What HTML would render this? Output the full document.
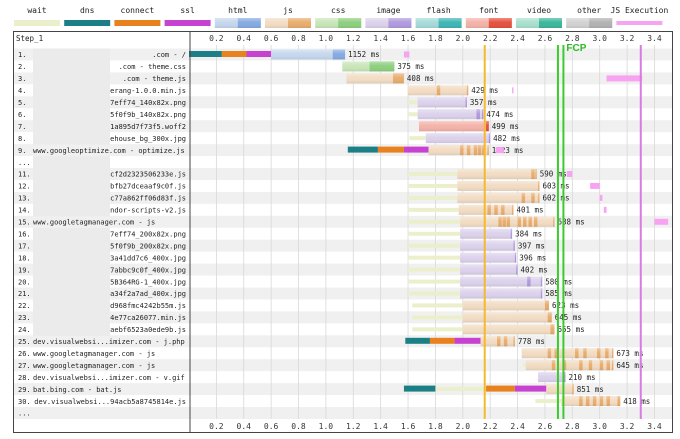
<!DOCTYPE html>
<html><head><meta charset="utf-8"><style>
html,body{margin:0;padding:0;background:#fff;width:680px;height:439px;overflow:hidden}
svg{display:block;font-family:"DejaVu Sans Mono","Liberation Mono",monospace}
</style></head><body>
<svg id="c" width="680" height="439" xmlns="http://www.w3.org/2000/svg">
<defs>
<linearGradient id="sh" x1="0" y1="0" x2="0" y2="1"><stop offset="0" stop-color="#fff" stop-opacity="0.35"/><stop offset="0.45" stop-color="#fff" stop-opacity="0"/><stop offset="1" stop-color="#000" stop-opacity="0.08"/></linearGradient>
</defs>
</svg>
<script>
const legendNames=["wait","dns","connect","ssl","html","js","css","image","flash","font","video","other","JS Execution"];
const rowLabels=["/","theme.css","theme.js","erang-1.0.0.min.js","7eff74_140x82x.png","5f0f9b_140x82x.png","1a895d7f73f5.woff2","ehouse_bg_300x.jpg","www.googleoptimize.com - optimize.js","...","cf2d2323506233e.js","bfb27dceaaf9c0f.js","c77a862ff06d83f.js","ndor-scripts-v2.js","www.googletagmanager.com - js","7eff74_200x82x.png","5f0f9b_200x82x.png","3a41dd7c6_400x.jpg","7abbc9c0f_400x.jpg","5B364RG-1_400x.jpg","a34f2a7ad_400x.jpg","d968fmc4242b55m.js","4e77ca26077.min.js","aebf6523a0ede9b.js","dev.visualwebsi...imizer.com - j.php","www.googletagmanager.com - js","www.googletagmanager.com - js","dev.visualwebsi...imizer.com - v.gif","bat.bing.com - bat.js","dev.visualwebsi...94acb5a8745814e.js","..."];
const rowNums=["1.","2.","3.","4.","5.","6.","7.","8.","9.","...","11.","12.","13.","14.","15.","16.","17.","18.","19.","20.","21.","22.","23.","24.","25.","26.","27.","28.","29.","30.","..."];
const rowTypes=["html","css","js","js","image","image","font","image","js","","js","js","js","js","js","image","image","image","image","image","image","js","js","js","js","js","js","image","js","js",""];
const waitStart=[null,null,null,null,1.6,1.6,null,1.61,null,null,1.6,1.6,1.6,1.6,1.6,1.6,1.6,1.6,1.6,1.6,1.6,1.63,1.63,1.63,null,null,2.44,null,1.8,2.53,null];
const dnsSeg=[[0,0.24],null,null,null,null,null,null,null,[1.16,1.38],null,null,null,null,null,null,null,null,null,null,null,null,null,null,null,[1.58,1.76],null,null,null,[1.57,1.8],null,null];
const connectSeg=[[0.24,0.42],null,null,null,null,null,null,null,[1.38,1.57],null,null,null,null,null,null,null,null,null,null,null,null,null,null,null,[1.76,1.94],null,null,null,[2.17,2.38],null,null];
const sslSeg=[[0.42,0.6],null,null,null,null,null,null,null,[1.57,1.75],null,null,null,null,null,null,null,null,null,null,null,null,null,null,null,[1.94,2.13],null,null,null,[2.38,2.61],null,null];
const reqStart=[0.6,1.12,1.15,1.6,1.67,1.67,1.68,1.73,1.75,null,1.96,1.96,1.96,1.97,1.98,1.98,1.98,1.98,1.98,1.98,1.98,2.0,2.0,2.0,2.13,2.43,2.46,2.55,2.61,2.72,null];
const downStart=[1.05,1.32,1.49,2.03,2.02,2.14,2.17,2.19,2.18,null,2.53,2.55,2.55,2.36,2.66,2.35,2.37,2.38,2.39,2.57,2.57,2.6,2.62,2.64,2.37,3.09,3.09,2.74,2.8,3.13,null];
const reqEnd=[1.14,1.5,1.57,2.04,2.03,2.15,2.19,2.2,2.19,null,2.54,2.56,2.56,2.37,2.67,2.36,2.38,2.39,2.4,2.58,2.58,2.63,2.65,2.67,2.38,3.1,3.1,2.75,2.81,3.15,null];
const stripes=[[],[1.32,1.35],[],[1.81],[],[2.1],[],[],[1.98,2.03,2.08,2.11,2.14],[],[2.5],[],[2.43,2.5],[2.18,2.23,2.28],[2.26,2.29,2.32,2.4,2.44,2.48,2.52],[],[],[],[],[2.47],[],[],[],[],[2.25,2.3],[2.62,2.67,2.82,2.88,2.98,3.04],[2.65,2.73,2.85,2.92,3.0,3.05],[],[],[2.85,2.9,2.95,3.0,3.05],[]];
const msLabels=["1152","375","408","429","357","474","499","482","1023","","590","603","602","401","688","384","397","396","402","580","585","623","645","655","778","673","645","210","851","418",""];
const jsExec=[[1.57,1.61],null,[3.05,3.31],[2.36,2.37],null,null,null,null,[2.24,2.3],null,[2.76,2.8],[2.93,3.0],[3.0,3.02],[3.03,3.05],[3.4,3.5],null,null,null,null,null,null,null,null,null,null,null,null,null,null,null,null];
const axisTicks=["0.2","0.4","0.6","0.8","1.0","1.2","1.4","1.6","1.8","2.0","2.2","2.4","2.6","2.8","3.0","3.2","3.4"];
const markerTimes=[2.16,2.695,2.735,3.3];
const redacted=[0,1,2,3,4,5,6,7,9,10,11,12,13,15,16,17,18,19,20,21,22,23];

const colors={wait:["#ecefcb","#ecefcb"],dns:["#1d7f86","#1d7f86"],connect:["#e8821e","#e8821e"],ssl:["#c742d0","#c742d0"],html:["#c6d7ee","#86abe2"],js:["#f2dcc4","#e9ad6e"],css:["#c8e6b8","#8ed07f"],image:["#dcd2ec","#b19ade"],flash:["#a6dbd9","#3fb6b5"],font:["#f4b3a9","#e5513f"],video:["#a9e0cd","#3bb89c"],other:["#d2d2d2","#b3b3b3"],"JS Execution":["#f7a3f2","#f7a3f2"]};
const X0=189, PX=136.9, TOP=48.5, RH=11.95;
const xs=t=>X0+t*PX;
const rowY=i=>TOP+i*RH;
const svg=document.getElementById('c');
const NS="http://www.w3.org/2000/svg";
function mk(tag,attrs,parent){const e=document.createElementNS(NS,tag);for(const k in attrs)e.setAttribute(k,attrs[k]);(parent||svg).appendChild(e);return e;}

legendNames.forEach((n,i)=>{
  const cx=37+i*50.2;
  const t=mk('text',{x:cx,y:13,'font-size':8,'text-anchor':'middle',fill:'#222'});t.textContent=n;
  
  
  const c=colors[n];
  const g=mk('g',{});
  
  
  if(n==="JS Execution"){mk('rect',{x:cx-23,y:21,width:46,height:4,fill:c[0]},g);}
  else if(c[0]===c[1]){mk('rect',{x:cx-23,y:20,width:46,height:6,fill:c[0]},g);}
  else{mk('rect',{x:cx-23,y:18,width:46,height:10,fill:c[0]},g);mk('rect',{x:cx,y:18,width:23,height:10,fill:c[1]},g);mk('rect',{x:cx-23,y:18,width:46,height:10,fill:'url(#sh)'},g);}
});

rowLabels.forEach((l,i)=>{
  if(i%2===0){const r=mk('rect',{x:14,y:rowY(i),width:659,height:RH,fill:'#f0f0f0'});
  
  }
});
axisTicks.forEach(tk=>{
  const x=xs(parseFloat(tk));
  const l=mk('line',{x1:x,x2:x,y1:45,y2:419,stroke:'#d8d8d8','stroke-width':0.8});
  
  
  const t1=mk('text',{x:x,y:41,'font-size':8,'text-anchor':'middle',fill:'#333'});t1.textContent=tk;
  
  
  const t2=mk('text',{x:x,y:429,'font-size':8,'text-anchor':'middle',fill:'#333'});t2.textContent=tk;
  
  
});
redacted.forEach(i=>{const r=mk('rect',{x:33,y:rowY(i),width:77,height:RH+0.5,fill:'#ebebeb'});

});

const st=mk('text',{x:16,y:41,'font-size':7.5,fill:'#222'});st.textContent="Step_1";


rowLabels.forEach((l,i)=>{
  const y=rowY(i)+8.7;
  const n=mk('text',{x:18,y:y,'font-size':7,fill:'#222'});n.textContent=rowNums[i];
  
  
  if(l==="...")return;
  const full=l.indexOf(' - ')>0;
  const lbl=full?l:(i<3?('.com - '+l):l);
  const t=mk('text',{x:full?33:186,y:y,'font-size':7,fill:'#222','text-anchor':full?'start':'end'});
  t.textContent=lbl;
  
  
});

function seg(a,b,y,h,fill,name){
  if(b<=a)return;
  const r=mk('rect',{x:xs(a),y:y,width:xs(b)-xs(a),height:h,fill:fill});
  
  
}
rowLabels.forEach((l,i)=>{
  const y=rowY(i);
  const ty=rowTypes[i];
  if(!ty)return;
  const c=colors[ty];
  if(waitStart[i]!=null){seg(waitStart[i],(connectSeg[i]&&i===28)?connectSeg[i][0]:reqStart[i],y+4,4,colors.wait[0],'wait-bar');}
  if(dnsSeg[i])seg(dnsSeg[i][0],dnsSeg[i][1],y+2.5,6,colors.dns[0],'dns-bar');
  if(connectSeg[i])seg(connectSeg[i][0],connectSeg[i][1],y+2.5,6,colors.connect[0],'connect-bar');
  if(sslSeg[i])seg(sslSeg[i][0],sslSeg[i][1],y+2.5,6,colors.ssl[0],'ssl-bar');
  seg(reqStart[i],reqEnd[i],y+1,10,c[0],'request-bar');
  seg(Math.min(downStart[i],reqEnd[i]),reqEnd[i],y+1,10,c[1],'download-bar');
  stripes[i].forEach(t=>seg(t,Math.min(t+0.025,reqEnd[i]),y+1,10,c[1],'download-chunk'));
  const sh=mk('rect',{x:xs(reqStart[i]),y:y+1,width:Math.max(0,xs(reqEnd[i])-xs(reqStart[i])),height:10,fill:'url(#sh)'});
  
  
  const t=mk('text',{x:xs(reqEnd[i])+3,y:y+8.7,'font-size':7.5,fill:'#222'});
  t.textContent=msLabels[i]+" ms";
  
  
  if(jsExec[i])seg(jsExec[i][0],jsExec[i][1],y+3,6,colors["JS Execution"][0],'js-exec-bar');
});

const mcol=["#f5b82e","#3ccb2f","#3ccb2f","#d97be0"];
markerTimes.forEach((m,i)=>{
  const l=mk('line',{x1:xs(m),x2:xs(m),y1:45,y2:419,stroke:mcol[i],'stroke-width':2});
  
  
});
const f=mk('text',{x:xs(markerTimes[2])+3,y:51,'font-size':10,'font-weight':'bold',fill:'#2fb824','font-family':'Liberation Sans, sans-serif'});
f.textContent="FCP";



const b=mk('rect',{x:13.5,y:31.5,width:659,height:401,fill:'none',stroke:'#444','stroke-width':1});


const d=mk('line',{x1:190,x2:190,y1:31,y2:432,stroke:'#444','stroke-width':1});


</script>
</body></html>
